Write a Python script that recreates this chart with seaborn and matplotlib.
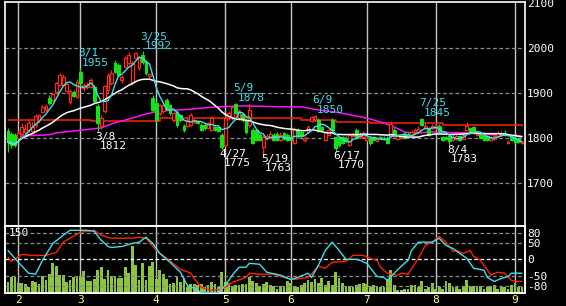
import numpy as np
import pandas as pd
import matplotlib
matplotlib.use("Agg")
import matplotlib.pyplot as plt
import matplotlib.transforms as mtrans
import seaborn as sns

sns.set_theme(style="dark")
plt.rcParams['font.family'] = ['DejaVu Sans Mono', 'DejaVu Sans']
plt.rcParams['patch.force_edgecolor'] = False

# ---------------- data (day index 0..149) ----------------
opens = [1815,1808,1807,1800,1808,1812,1818,1815,1829,1840,
         1858,1862,1889,1885,1902,1918,1918,1905,1880,1902,
         1891,1947,1910,1912,1913,1913,1871,1826,1860,1907,
         1922,1967,1962,1929,1958,1967,1924,1978,1956,1984,
         1969,1938,1889,1878,1855,1860,1884,1873,1840,1858,
         1850,1827,1827,1829,1835,1838,1829,1829,1822,1818,
         1824,1824,1807,1784,1844,1844,1876,1844,1853,1840,
         1829,1818,1818,1807,1780,1800,1800,1807,1809,1796,
         1811,1807,1802,1789,1818,1813,1796,1813,1838,1840,
         1840,1824,1796,1807,1840,1802,1800,1802,1800,1784,
         1804,1818,1802,1802,1796,1800,1802,1793,1802,1800,
         1800,1804,1818,1798,1800,1809,1809,1807,1813,1813,
         1842,1822,1822,1822,1822,1827,1802,1802,1804,1796,
         1798,1804,1798,1818,1822,1824,1807,1809,1804,1804,
         1796,1798,1804,1807,1811,1789,1802,1800,1798,1789]
highs = [1822,1812,1810,1815,1833,1830,1840,1835,1852,1853,
         1872,1875,1896,1900,1925,1944,1942,1925,1908,1906,
         1930,1955,1922,1925,1932,1918,1875,1850,1918,1945,
         1950,1972,1966,1940,1982,1990,1970,1991,1982,1992,
         1972,1945,1895,1882,1876,1876,1888,1876,1858,1862,
         1853,1830,1843,1855,1844,1840,1832,1832,1836,1848,
         1827,1826,1810,1848,1860,1872,1878,1864,1856,1843,
         1875,1822,1820,1810,1806,1808,1815,1810,1812,1812,
         1814,1810,1805,1824,1822,1816,1803,1828,1849,1850,
         1845,1827,1816,1822,1843,1805,1803,1805,1803,1810,
         1810,1822,1812,1815,1804,1803,1805,1802,1805,1803,
         1803,1838,1822,1808,1808,1812,1812,1818,1822,1826,
         1845,1834,1825,1831,1830,1830,1805,1805,1807,1808,
         1810,1807,1812,1835,1825,1827,1812,1812,1807,1806,
         1803,1808,1815,1816,1818,1795,1805,1803,1801,1794]
lows = [1769,1778,1780,1797,1805,1808,1812,1810,1825,1836,
        1855,1860,1872,1880,1898,1915,1915,1900,1875,1890,
        1888,1918,1905,1908,1910,1878,1812,1820,1855,1900,
        1918,1944,1935,1922,1955,1962,1918,1975,1950,1965,
        1940,1933,1858,1835,1850,1856,1862,1850,1836,1825,
        1836,1812,1824,1826,1832,1830,1815,1818,1819,1815,
        1815,1812,1775,1780,1840,1840,1852,1840,1836,1808,
        1825,1786,1793,1793,1763,1796,1797,1793,1793,1793,
        1795,1793,1793,1786,1800,1800,1790,1810,1835,1836,
        1812,1815,1792,1804,1815,1770,1780,1786,1790,1781,
        1801,1797,1798,1799,1793,1785,1793,1790,1797,1795,
        1786,1800,1801,1795,1797,1797,1801,1804,1810,1810,
        1826,1819,1804,1819,1819,1810,1793,1795,1783,1793,
        1795,1793,1795,1815,1810,1810,1804,1797,1793,1793,
        1793,1795,1801,1804,1804,1786,1793,1788,1788,1786]
closes = [1790,1785,1784,1810,1825,1820,1833,1825,1849,1850,
          1869,1871,1878,1898,1922,1940,1935,1920,1905,1893,
          1924,1922,1918,1918,1929,1882,1833,1844,1915,1940,
          1944,1947,1940,1936,1978,1984,1967,1989,1978,1969,
          1944,1942,1862,1840,1873,1873,1866,1855,1855,1829,
          1840,1818,1840,1851,1840,1833,1818,1822,1833,1844,
          1818,1816,1780,1844,1856,1869,1855,1860,1840,1812,
          1862,1789,1796,1796,1802,1804,1809,1796,1796,1807,
          1798,1796,1796,1820,1804,1804,1800,1825,1846,1848,
          1816,1818,1813,1818,1818,1778,1784,1789,1793,1807,
          1807,1800,1807,1811,1800,1789,1796,1798,1800,1798,
          1789,1831,1804,1804,1804,1800,1804,1813,1818,1820,
          1829,1827,1807,1827,1827,1813,1796,1798,1793,1802,
          1804,1796,1807,1827,1813,1813,1809,1800,1796,1796,
          1800,1804,1811,1811,1807,1791,1796,1791,1791,1791]
volumes = [25,36,36,22,22,20,13,27,25,20,
           38,29,43,67,60,40,40,25,29,36,
           36,38,49,27,27,31,52,58,31,52,
           38,38,34,34,58,45,105,63,29,67,
           29,60,69,31,52,43,31,20,22,36,
           25,34,13,20,20,18,20,13,18,25,
           20,13,47,25,22,16,18,18,20,20,
           36,27,22,16,20,25,18,16,9,16,
           16,27,22,13,13,18,22,29,25,31,
           22,34,18,27,18,47,34,22,13,16,
           13,18,20,22,20,13,18,16,13,13,
           31,52,18,7,7,9,9,18,18,13,
           27,9,13,22,9,13,9,27,22,13,
           13,9,13,29,13,16,16,16,9,13,
           16,18,9,16,13,9,18,22,13,13]

# slow moving averages (day index, price)
ma_slow_days = [0,12,14,20,27,30,36,40,44,50,56,61,69,79,85,90,96,102,105,109,112,115,118,122,132,140,149]
ma_slow_vals = [1802,1807,1811,1816,1822,1831,1844,1853,1860,1862,1866,1869,1871,1869,1869,1862,1856,1847,1842,1833,1824,1813,1810,1813,1811,1807,1804]
ma_long_days = [0,23,24,43,44,60,70,85,95,105,125,126,149]
ma_long_vals = [1840,1840,1838,1838,1845,1845,1843,1840,1836,1833,1832,1828,1827]

# oscillator lines (lower panel)
osc_a_days = [0,3,6,8,10,13,16,18,23,25,27,29,30,33,36,38,40,42,44,47,50,52,54,56,61,63,65,67,69,70,73,75,79,82,84,87,88,90,92,94,96,98,101,102,104,107,109,110,112,114,116,117,119,123,125,127,129,131,133,135,138,139,141,143,145,146,149]
osc_a_vals = [27,-9,-42,-45,-3,48,73,88,88,85,58,39,36,39,48,52,67,48,18,-9,-39,-79,-88,-100,-100,-79,-48,-24,-24,-12,-15,-39,-48,-61,-55,-42,-55,-18,27,52,27,0,0,-3,-12,-52,-55,-64,-42,-21,-3,27,52,52,64,42,33,18,3,-27,-33,-55,-67,-58,-52,-42,-42]
osc_b_days = [0,1,4,7,11,14,16,19,21,25,27,30,36,38,40,43,46,50,53,54,56,59,62,65,69,70,73,77,81,83,87,90,92,94,98,100,103,105,107,108,110,113,114,116,119,121,123,125,127,129,130,132,134,135,137,139,140,142,144,146,148,149]
osc_b_vals = [6,-6,15,12,12,21,52,70,82,88,73,64,64,67,64,27,3,-30,-42,-58,-85,-94,-91,-70,-55,-42,-45,-45,-58,-61,-55,-21,-27,-9,-6,12,12,3,-3,-24,-42,-48,-42,-45,3,42,52,70,52,24,27,18,27,9,-3,-33,-48,-39,-42,-64,-67,-67]

month_days = [3, 21, 43, 63, 82, 104, 124, 147]
month_labels = ['2', '3', '4', '5', '6', '7', '8', '9']
price_ticks = [1700, 1800, 1900, 2000, 2100]
osc_ticks = [80, 50, 0, -50, -80]

peak_days = [21, 39, 66, 89, 120]
peak_dates = ['3/1', '3/25', '5/9', '6/9', '7/25']
peak_prices = [1955, 1992, 1878, 1850, 1845]
trough_days = [26, 62, 74, 95, 128]
trough_dates = ['3/8', '4/27', '5/19', '6/17', '8/4']
trough_prices = [1812, 1775, 1763, 1770, 1783]

# ---------------- style ----------------
RED = '#ff2a1a'
GREEN = '#18e018'
CYAN = '#3ee0ee'
MAGENTA = '#ff10ff'
LINE_RED = '#ff2200'
VOL = '#8cc43c'
YELLOW = '#ffff80'
GRID_V = '#c4c4c4'
GRID_H = '#8a8a8a'
FS = 8

W, H = 566, 306
fig = plt.figure(figsize=(W / 100, H / 100), dpi=100, facecolor='black')
ax = fig.add_axes([5 / W, 1 - 226 / H, 520 / W, 224 / H])
axv = fig.add_axes([5 / W, 1 - 293 / H, 520 / W, 67 / H], sharex=ax)
axo = axv.twinx()

for a in (ax, axv, axo):
    a.set_facecolor('black')
    for s in a.spines.values():
        s.set_color('white')
        s.set_linewidth(1.2)
axo.patch.set_visible(False)

df = pd.DataFrame({'day': np.arange(len(closes)), 'open': opens, 'high': highs,
                   'low': lows, 'close': closes, 'volume': volumes})
df['ma5'] = df['close'].rolling(5, min_periods=1).mean()
df['ma25'] = df['close'].rolling(25, min_periods=1).mean()

# grid
for d in month_days:
    ax.axvline(d, color=GRID_V, lw=1.0, zorder=1)
    axv.axvline(d, color=GRID_V, lw=1.0, zorder=1)
for p in [1700, 1800, 1900, 2000]:
    ax.axhline(p, color=GRID_H, lw=0.9, ls=(0, (3, 2)), zorder=1)

# moving averages under the candles
ax.plot(ma_long_days, ma_long_vals, color=LINE_RED, lw=1.1, zorder=2, drawstyle='steps-post')
sns.lineplot(x=ma_slow_days, y=ma_slow_vals, ax=ax, color=MAGENTA, lw=1.1, zorder=2)

# candles
up = df[df['close'] >= df['open']]
dn = df[df['close'] < df['open']]
ax.vlines(up['day'], up['low'], up['high'], color=RED, lw=0.9, zorder=3)
ax.bar(up['day'], (up['close'] - up['open']).clip(lower=0.8), bottom=up['open'], width=0.8,
       facecolor='black', edgecolor=RED, linewidth=0.9, zorder=4)
ax.vlines(dn['day'], dn['low'], dn['high'], color=GREEN, lw=0.9, zorder=3)
ax.bar(dn['day'], dn['close'] - dn['open'], bottom=dn['open'], width=0.8,
       facecolor=GREEN, edgecolor=GREEN, linewidth=0.8, zorder=4)

sns.lineplot(data=df, x='day', y='ma25', ax=ax, color='white', lw=1.1, zorder=5)
sns.lineplot(data=df, x='day', y='ma5', ax=ax, color=CYAN, lw=1.0, zorder=6)

ax.set_xlim(-0.87, 149.9)
ax.set_ylim(1604, 2102)
ax.yaxis.tick_right()
ax.set_yticks(price_ticks)
ax.set_yticklabels([str(t) for t in price_ticks])
ax.tick_params(axis='y', colors='white', labelsize=FS, length=0, pad=1.5)
ax.tick_params(axis='x', length=0, labelbottom=False)
ax.set_xlabel('')
ax.set_ylabel('')
ax.grid(False)

# annotations
for d, t, p in zip(peak_days, peak_dates, peak_prices):
    ax.text(d - 0.7, p + 22, t, color=CYAN, fontsize=FS, ha='left', va='bottom', zorder=8)
    ax.text(d + 0.5, p, str(p), color=CYAN, fontsize=FS, ha='left', va='bottom', zorder=8)
for d, t, p in zip(trough_days, trough_dates, trough_prices):
    ax.text(d - 0.7, p, t, color='white', fontsize=FS, ha='left', va='top', zorder=8)
    ax.text(d + 0.5, p - 20, str(p), color='white', fontsize=FS, ha='left', va='top', zorder=8)

# lower panel: volume
axv.bar(df['day'], df['volume'], width=0.8, color=VOL, edgecolor='none', linewidth=0, zorder=2)
axv.set_ylim(0, 150)
axv.set_yticks([])
axv.set_xticks(month_days)
axv.set_xticklabels(month_labels)
axv.tick_params(axis='x', colors=YELLOW, labelsize=FS, length=0, pad=1.5)
axv.grid(False)
axv.set_xlabel('')
axv.set_ylabel('')
axv.text(0.008, 146, '150', color='white', fontsize=FS, ha='left', va='top',
         transform=mtrans.blended_transform_factory(axv.transAxes, axv.transData), zorder=9)

# oscillators
for v in [80, 50, -50, -80]:
    axo.axhline(v, color=GRID_H, lw=0.9, ls=(0, (3, 2)), zorder=1)
axo.axhline(0, color='white', lw=0.9, ls=(0, (3, 2)), zorder=1)
sns.lineplot(x=osc_b_days, y=osc_b_vals, ax=axo, color=LINE_RED, lw=1.0, zorder=3)
sns.lineplot(x=osc_a_days, y=osc_a_vals, ax=axo, color=CYAN, lw=1.0, zorder=4)
axo.set_ylim(-102, 101)
axo.set_yticks(osc_ticks)
axo.set_yticklabels([str(t) for t in osc_ticks])
axo.tick_params(axis='y', colors='white', labelsize=FS, length=0, pad=1.5)
axo.set_xlabel('')
axo.set_ylabel('')
axo.grid(False)
axo.set_xlim(-0.87, 149.9)

fig.savefig('out.png', dpi=100, facecolor='black')
